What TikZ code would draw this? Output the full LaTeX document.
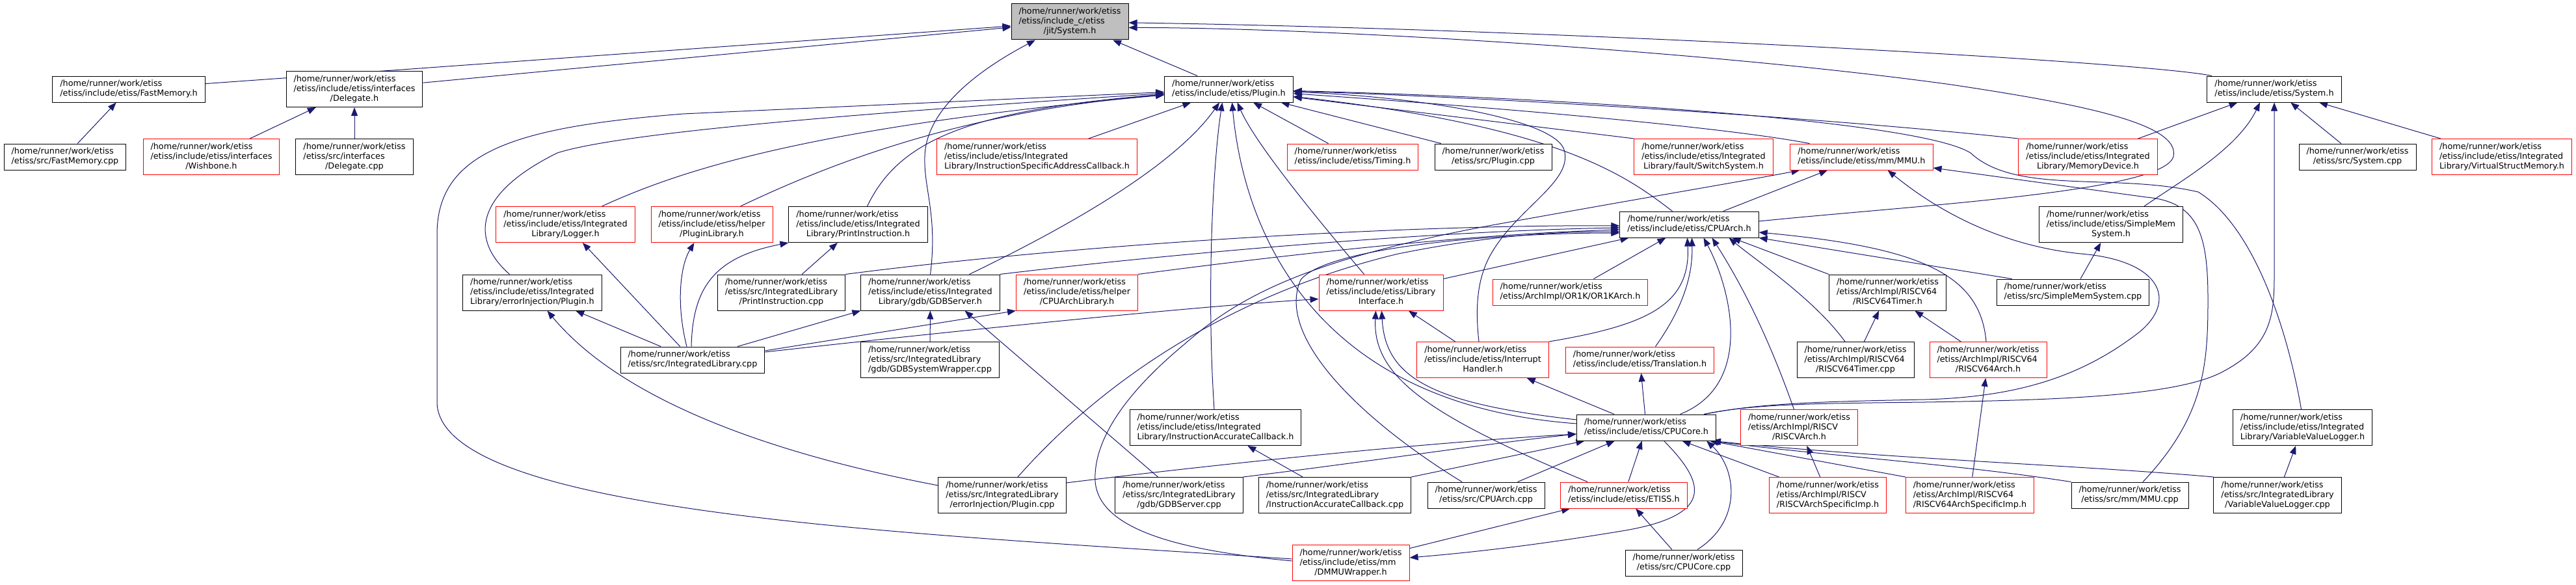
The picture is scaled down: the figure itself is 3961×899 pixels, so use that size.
\documentclass[tikz,border=0pt]{standalone}
\usepackage{fontspec}
\setmainfont{DejaVu Sans}
\usepackage{tikz}
\usetikzlibrary{arrows.meta, backgrounds}

\definecolor{edgeblue}{HTML}{191970}
\definecolor{rootfill}{HTML}{BFBFBF}
\definecolor{truncred}{HTML}{FF0000}

\newcommand{\incpath}[2]{\begin{tabular}{@{}l@{}}#1\\\multicolumn{1}{@{}c@{}}{#2}\end{tabular}}

\tikzset{
    file box/.style={
        rectangle, draw=black, fill=white, line width=1pt,
        inner xsep=11.5pt, inner ysep=5pt,
        font=\fontsize{12.8}{15}\selectfont
    },
    file box red/.style={file box, draw=truncred},
    file box root/.style={file box, fill=rootfill},
    include edge/.style={
        -{Triangle[length=13pt,width=10pt]}, line width=1pt, color=edgeblue
    },
}

\begin{document}
\begin{tikzpicture}[x=1pt, y=-1pt]
    \path[use as bounding box] (0,0) rectangle (3961,899);

    \node[file box root] (J) at (1645,33.5) {\incpath{/home/runner/work/etiss\\/etiss/include\_c/etiss}{/jit/System.h}};

    \node[file box] (FMh) at (198,137) {\incpath{/home/runner/work/etiss}{/etiss/include/etiss/FastMemory.h}};
    \node[file box] (DLh) at (545,137) {\incpath{/home/runner/work/etiss\\/etiss/include/etiss/interfaces}{/Delegate.h}};
    \node[file box] (PLh) at (1889.5,137) {\incpath{/home/runner/work/etiss}{/etiss/include/etiss/Plugin.h}};
    \node[file box] (SYh) at (3497,137) {\incpath{/home/runner/work/etiss}{/etiss/include/etiss/System.h}};

    \node[file box] (FMc) at (100,241) {\incpath{/home/runner/work/etiss}{/etiss/src/FastMemory.cpp}};
    \node[file box red] (WBh) at (325,241) {\incpath{/home/runner/work/etiss\\/etiss/include/etiss/interfaces}{/Wishbone.h}};
    \node[file box] (DLc) at (545,241) {\incpath{/home/runner/work/etiss\\/etiss/src/interfaces}{/Delegate.cpp}};
    \node[file box red] (ISAC) at (1594.5,241) {\incpath{/home/runner/work/etiss\\/etiss/include/etiss/Integrated}{Library/InstructionSpecificAddressCallback.h}};
    \node[file box red] (TMh) at (2080,241) {\incpath{/home/runner/work/etiss}{/etiss/include/etiss/Timing.h}};
    \node[file box] (PLc) at (2296,241) {\incpath{/home/runner/work/etiss}{/etiss/src/Plugin.cpp}};
    \node[file box red] (FSS) at (2619.5,241) {\incpath{/home/runner/work/etiss\\/etiss/include/etiss/Integrated}{Library/fault/SwitchSystem.h}};
    \node[file box red] (MMUh) at (2862.5,241) {\incpath{/home/runner/work/etiss}{/etiss/include/etiss/mm/MMU.h}};
    \node[file box red] (MDh) at (3210.5,241) {\incpath{/home/runner/work/etiss\\/etiss/include/etiss/Integrated}{Library/MemoryDevice.h}};
    \node[file box] (SYc) at (3625,241) {\incpath{/home/runner/work/etiss}{/etiss/src/System.cpp}};
    \node[file box red] (VSM) at (3847,241) {\incpath{/home/runner/work/etiss\\/etiss/include/etiss/Integrated}{Library/VirtualStructMemory.h}};

    \node[file box red] (LGh) at (869.5,345) {\incpath{/home/runner/work/etiss\\/etiss/include/etiss/Integrated}{Library/Logger.h}};
    \node[file box red] (PLLh) at (1094.5,345) {\incpath{/home/runner/work/etiss\\/etiss/include/etiss/helper}{/PluginLibrary.h}};
    \node[file box] (PIh) at (1319.5,345) {\incpath{/home/runner/work/etiss\\/etiss/include/etiss/Integrated}{Library/PrintInstruction.h}};
    \node[file box] (CAh) at (2597.5,345) {\incpath{/home/runner/work/etiss}{/etiss/include/etiss/CPUArch.h}};
    \node[file box] (SMSh) at (3246,345) {\incpath{/home/runner/work/etiss\\/etiss/include/etiss/SimpleMem}{System.h}};

    \node[file box] (EIh) at (818.5,449.5) {\incpath{/home/runner/work/etiss\\/etiss/include/etiss/Integrated}{Library/errorInjection/Plugin.h}};
    \node[file box] (PIc) at (1201.5,449.5) {\incpath{/home/runner/work/etiss\\/etiss/src/IntegratedLibrary}{/PrintInstruction.cpp}};
    \node[file box] (GDBh) at (1430.5,449.5) {\incpath{/home/runner/work/etiss\\/etiss/include/etiss/Integrated}{Library/gdb/GDBServer.h}};
    \node[file box red] (CALh) at (1656,449.5) {\incpath{/home/runner/work/etiss\\/etiss/include/etiss/helper}{/CPUArchLibrary.h}};
    \node[file box red] (LIh) at (2123.5,449.5) {\incpath{/home/runner/work/etiss\\/etiss/include/etiss/Library}{Interface.h}};
    \node[file box red] (OR1K) at (2414.5,449) {\incpath{/home/runner/work/etiss}{/etiss/ArchImpl/OR1K/OR1KArch.h}};
    \node[file box] (R64T) at (2902.5,449.5) {\incpath{/home/runner/work/etiss\\/etiss/ArchImpl/RISCV64}{/RISCV64Timer.h}};
    \node[file box] (SMSc) at (3187.5,449) {\incpath{/home/runner/work/etiss}{/etiss/src/SimpleMemSystem.cpp}};

    \node[file box] (ILc) at (1065,553) {\incpath{/home/runner/work/etiss}{/etiss/src/IntegratedLibrary.cpp}};
    \node[file box] (GSWc) at (1430,553) {\incpath{/home/runner/work/etiss\\/etiss/src/IntegratedLibrary}{/gdb/GDBSystemWrapper.cpp}};
    \node[file box red] (IHh) at (2280,553) {\incpath{/home/runner/work/etiss\\/etiss/include/etiss/Interrupt}{Handler.h}};
    \node[file box red] (TRh) at (2521.5,553) {\incpath{/home/runner/work/etiss}{/etiss/include/etiss/Translation.h}};
    \node[file box] (R64Tc) at (2853,553) {\incpath{/home/runner/work/etiss\\/etiss/ArchImpl/RISCV64}{/RISCV64Timer.cpp}};
    \node[file box red] (R64A) at (3057,553) {\incpath{/home/runner/work/etiss\\/etiss/ArchImpl/RISCV64}{/RISCV64Arch.h}};

    \node[file box] (IACh) at (1869,657) {\incpath{/home/runner/work/etiss\\/etiss/include/etiss/Integrated}{Library/InstructionAccurateCallback.h}};
    \node[file box] (CCh) at (2531.5,657) {\incpath{/home/runner/work/etiss}{/etiss/include/etiss/CPUCore.h}};
    \node[file box red] (RVA) at (2766.5,657) {\incpath{/home/runner/work/etiss\\/etiss/ArchImpl/RISCV}{/RISCVArch.h}};
    \node[file box] (VVLh) at (3540.5,657) {\incpath{/home/runner/work/etiss\\/etiss/include/etiss/Integrated}{Library/VariableValueLogger.h}};

    \node[file box] (EIc) at (1541,761) {\incpath{/home/runner/work/etiss\\/etiss/src/IntegratedLibrary}{/errorInjection/Plugin.cpp}};
    \node[file box] (GDBc) at (1813,761) {\incpath{/home/runner/work/etiss\\/etiss/src/IntegratedLibrary}{/gdb/GDBServer.cpp}};
    \node[file box] (IACc) at (2052.5,761) {\incpath{/home/runner/work/etiss\\/etiss/src/IntegratedLibrary}{/InstructionAccurateCallback.cpp}};
    \node[file box] (CAc) at (2285,761) {\incpath{/home/runner/work/etiss}{/etiss/src/CPUArch.cpp}};
    \node[file box red] (ETh) at (2497,761) {\incpath{/home/runner/work/etiss}{/etiss/include/etiss/ETISS.h}};
    \node[file box red] (RVAS) at (2810.5,761) {\incpath{/home/runner/work/etiss\\/etiss/ArchImpl/RISCV}{/RISCVArchSpecificImp.h}};
    \node[file box red] (R64AS) at (3029,761) {\incpath{/home/runner/work/etiss\\/etiss/ArchImpl/RISCV64}{/RISCV64ArchSpecificImp.h}};
    \node[file box] (MMUc) at (3275,761) {\incpath{/home/runner/work/etiss}{/etiss/src/mm/MMU.cpp}};
    \node[file box] (VVLc) at (3502,761) {\incpath{/home/runner/work/etiss\\/etiss/src/IntegratedLibrary}{/VariableValueLogger.cpp}};

    \node[file box red] (DMMU) at (2077,865) {\incpath{/home/runner/work/etiss\\/etiss/include/etiss/mm}{/DMMUWrapper.h}};
    \node[file box] (CCc) at (2589,865) {\incpath{/home/runner/work/etiss}{/etiss/src/CPUCore.cpp}};

    \begin{scope}[on background layer]
    \draw[include edge] (FMh) -- (J);
    \draw[include edge] (DLh) -- (J);
    \draw[include edge] (PLh) -- (J);
    \draw[include edge] (GDBh.north) .. controls (1442,330) and (1420,290) .. (1422,240) .. controls (1424,170) and (1500,110) .. (J);
    \draw[include edge] (SYh) .. controls (3300,95) and (2400,45) .. (J);
    \draw[include edge] ([yshift=5pt]CAh.east) .. controls (2950,315) and (3330,295) .. (3342,240) .. controls (3352,190) and (3200,160) .. (3000,130) .. controls (2600,75) and (2000,42) .. ([yshift=-9pt]J.east);

    \draw[include edge] (FMc) -- (FMh);
    \draw[include edge] (WBh) -- (DLh);
    \draw[include edge] (DLc) -- (DLh);

    \draw[include edge] ([yshift=6pt]DMMU.west) .. controls (1400,820) and (680,790) .. (672,620) -- (672,360) .. controls (672,230) and (800,195) .. (1050,175) -- (PLh);
    \draw[include edge] ([xshift=-35pt]EIh.north) .. controls (725,370) and (725,300) .. (857,235) .. controls (950,205) and (1300,175) .. (PLh);
    \draw[include edge] ([xshift=56pt]LGh.north) .. controls (1050,260) and (1250,195) .. (PLh);
    \draw[include edge] ([xshift=44pt]PLLh.north) .. controls (1300,240) and (1500,170) .. (PLh);
    \draw[include edge] ([xshift=14pt]PIh.north) .. controls (1380,220) and (1480,170) .. (PLh);
    \draw[include edge] (ISAC) -- (PLh);
    \draw[include edge] ([xshift=60pt]GDBh.north) .. controls (1660,340) and (1810,250) .. (PLh);
    \draw[include edge] ([xshift=-2pt]IACh.north) .. controls (1855,450) and (1865,250) .. ([xshift=-10pt]PLh.south);
    \draw[include edge] ([yshift=6pt]CCh.west) .. controls (2000,620) and (1910,330) .. ([xshift=5pt]PLh.south);
    \draw[include edge] ([xshift=-26pt]LIh.north) .. controls (2020,330) and (1930,220) .. ([xshift=13pt]PLh.south);
    \draw[include edge] (TMh) -- (PLh);
    \draw[include edge] (PLc) -- (PLh);
    \draw[include edge] ([xshift=-6pt]IHh.north) .. controls (2268,470) and (2272,430) .. (2290,395) .. controls (2330,320) and (2420,280) .. (2405,230) .. controls (2390,185) and (2200,150) .. (PLh);
    \draw[include edge] (FSS.north west) -- (PLh);
    \draw[include edge] ([xshift=-80pt]MMUh.north) .. controls (2650,195) and (2300,165) .. (PLh);
    \draw[include edge] (MDh.north west) .. controls (2800,180) and (2300,150) .. (PLh);
    \draw[include edge] ([xshift=-2pt]VVLh.north) .. controls (3520,520) and (3470,350) .. (3380,295) .. controls (3250,265) and (3100,300) .. (3030,235) .. controls (2950,185) and (2400,150) .. (PLh);
    \draw[include edge] ([xshift=-26pt]CAh.north) .. controls (2500,270) and (2400,195) .. (PLh);

    \draw[include edge] (MDh) -- (SYh);
    \draw[include edge] ([xshift=51pt]SMSh.north) .. controls (3350,280) and (3440,230) .. ([xshift=-22pt]SYh.south);
    \draw[include edge] ([xshift=-19pt]CCh.north east) .. controls (2700,620) and (2800,620) .. (2960,618) .. controls (3150,615) and (3350,610) .. (3420,570) .. controls (3495,530) and (3497,480) .. (3497,420) -- (SYh.south);
    \draw[include edge] (SYc) -- (SYh);
    \draw[include edge] (VSM) -- (SYh);

    \draw[include edge] (ILc) -- (LGh);
    \draw[include edge] ([xshift=-9pt]ILc.north) .. controls (1040,470) and (1045,410) .. ([xshift=-27pt]PLLh.south);
    \draw[include edge] ([xshift=-2pt]ILc.north) .. controls (1065,440) and (1100,395) .. (PIh.south west);
    \draw[include edge] (PIc) -- (PIh);
    \draw[include edge] (ILc) -- (EIh);
    \draw[include edge] ([yshift=15pt]EIc.west) .. controls (1200,700) and (960,620) .. ([xshift=23pt]EIh.south);
    \draw[include edge] ([xshift=69pt]ILc.north) -- (GDBh.south west);
    \draw[include edge] (GSWc) -- (GDBh);
    \draw[include edge] (GDBc) -- ([xshift=53pt]GDBh.south);
    \draw[include edge] ([yshift=14pt]ILc.east) -- (CALh.south west);
    \draw[include edge] ([yshift=12pt]ILc.east) .. controls (1500,505) and (1850,470) .. ([yshift=-10pt]LIh.west);
    \draw[include edge] (IHh) -- (LIh);
    \draw[include edge] ([xshift=-56pt]ETh.north) .. controls (2200,640) and (2110,580) .. ([xshift=-8pt]LIh.south);
    \draw[include edge] ([yshift=12pt]CCh.west) .. controls (2200,620) and (2130,580) .. ([xshift=1pt]LIh.south);

    \draw[include edge] (PIc.north east) .. controls (1700,370) and (2200,345) .. ([yshift=-2pt]CAh.west);
    \draw[include edge] (GDBh.north east) .. controls (1800,390) and (2200,355) .. ([yshift=-5pt]CAh.west);
    \draw[include edge] (CALh.north east) .. controls (1950,395) and (2250,360) .. ([yshift=-8pt]CAh.west);
    \draw[include edge] ([xshift=24pt]EIc.north) .. controls (1700,580) and (1900,450) .. (2150,390) .. controls (2300,360) and (2400,356) .. ([yshift=-11pt]CAh.west);
    \draw[include edge] ([xshift=-37pt]CAc.north) .. controls (2100,650) and (1960,520) .. (2000,430) .. controls (2040,380) and (2300,358) .. ([yshift=-13pt]CAh.west);
    \draw[include edge] (OR1K) -- (CAh);
    \draw[include edge] (LIh) -- (CAh);
    \draw[include edge] (IHh.north east) .. controls (2530,500) and (2600,470) .. ([xshift=-3pt]CAh.south);
    \draw[include edge] ([xshift=24pt]TRh.north) .. controls (2590,470) and (2603,420) .. ([xshift=4pt]CAh.south);
    \draw[include edge] ([xshift=52pt]CCh.north) .. controls (2700,590) and (2660,440) .. ([xshift=22pt]CAh.south);
    \draw[include edge] ([xshift=-8pt]RVA.north) .. controls (2720,520) and (2680,440) .. ([xshift=35pt]CAh.south);
    \draw[include edge] ([xshift=-16pt]R64Tc.north) .. controls (2790,460) and (2700,400) .. ([xshift=61pt]CAh.south);
    \draw[include edge] (R64T.north west) -- ([xshift=66pt]CAh.south);
    \draw[include edge] ([xshift=-3pt]R64A.north) .. controls (3045,420) and (2950,380) .. ([yshift=-12pt]CAh.east);
    \draw[include edge] ([xshift=-94pt]SMSc.north) -- (CAh.south east);

    \draw[include edge] ([yshift=3pt]DMMU.west) .. controls (1800,845) and (1690,810) .. (1684,740) .. controls (1680,660) and (1760,580) .. (1820,530) .. controls (1900,460) and (2000,400) .. (2300,345) .. controls (2550,300) and (2700,275) .. ([xshift=-95pt]MMUh.south);
    \draw[include edge] (CAh) -- (MMUh);
    \draw[include edge] ([xshift=90pt]CCh.north) .. controls (2700,620) and (2800,617) .. (2960,614) .. controls (3100,610) and (3200,580) .. (3290,510) .. controls (3350,460) and (3320,400) .. (3200,390) .. controls (3050,375) and (2950,300) .. ([xshift=40pt]MMUh.south);
    \draw[include edge] ([xshift=20pt]MMUc.north) .. controls (3390,640) and (3395,560) .. (3395,460) .. controls (3395,360) and (3380,310) .. (3300,303) -- ([yshift=-17pt]MMUh.east);

    \draw[include edge] (SMSc) -- (SMSh);
    \draw[include edge] (CCh) -- (IHh);
    \draw[include edge] (CCh) -- (TRh);
    \draw[include edge] (R64Tc) -- (R64T);
    \draw[include edge] (R64A) -- (R64T);
    \draw[include edge] (R64AS) -- (R64A);
    \draw[include edge] (RVAS) -- (RVA);
    \draw[include edge] (IACc) -- (IACh);
    \draw[include edge] (VVLc) -- (VVLh);
    \draw[include edge] (DMMU) -- (ETh);
    \draw[include edge] (CCc) -- (ETh);

    \draw[include edge] ([yshift=19pt]EIc.east) .. controls (1900,710) and (2200,680) .. ([yshift=-10pt]CCh.west);
    \draw[include edge] (GDBc.north east) .. controls (2100,710) and (2300,680) .. ([yshift=-10pt]CCh.west);
    \draw[include edge] (IACc.north east) -- ([xshift=-95pt]CCh.south);
    \draw[include edge] (CAc) -- (CCh);
    \draw[include edge] (ETh) -- (CCh);
    \draw[include edge] (RVAS) -- (CCh);
    \draw[include edge] (R64AS.north west) -- ([xshift=-10pt]CCh.south east);
    \draw[include edge] (MMUc.north west) .. controls (3000,712) and (2800,700) .. ([xshift=-8pt]CCh.south east);
    \draw[include edge] (VVLc.north west) .. controls (3200,715) and (2900,705) .. ([xshift=-6pt]CCh.south east);
    \draw[include edge] ([xshift=21pt]CCc.north) .. controls (2680,800) and (2670,720) .. ([xshift=-15pt]CCh.south east);
    \draw[include edge] ([xshift=27pt]CCh.south) .. controls (2620,740) and (2640,790) .. (2500,815) .. controls (2350,840) and (2250,850) .. ([yshift=8pt]DMMU.east);
    \end{scope}
\end{tikzpicture}
\end{document}
